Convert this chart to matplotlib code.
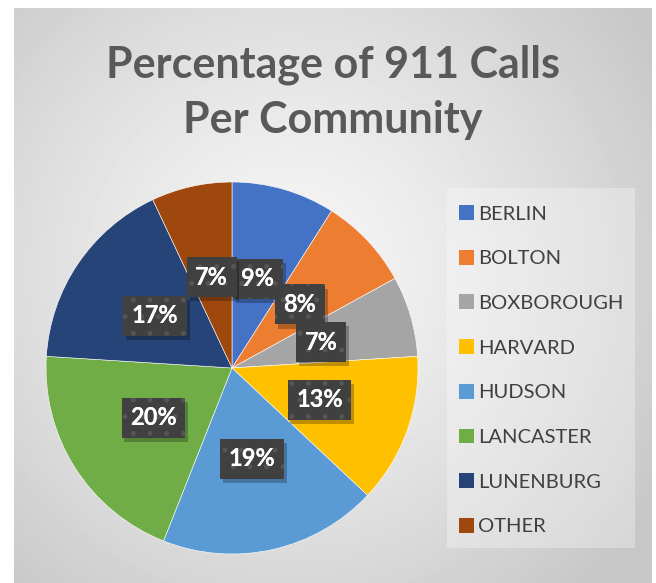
from matplotlib import pyplot as plt
from matplotlib.patches import Patch, Rectangle
import matplotlib.patheffects as pe
import numpy as np

# data
communities = ['BERLIN', 'BOLTON', 'BOXBOROUGH', 'HARVARD', 'HUDSON',
               'LANCASTER', 'LUNENBURG', 'OTHER']
percent = [9, 8, 7, 13, 19, 20, 17, 7]
colors = ['#4472c4', '#ed7d31', '#a5a5a5', '#ffc000', '#5b9bd5',
          '#70ad47', '#264478', '#9e480e']

plt.rcParams['font.family'] = ['Lato', 'DejaVu Sans']
plt.rcParams['hatch.linewidth'] = 1.2

W, H = 656, 583
fig = plt.figure(figsize=(W / 100, H / 100), dpi=100)
fig.patch.set_facecolor('white')

# chart area with radial gradient
bg = fig.add_axes([14 / W, 0, (652 - 14) / W, (583 - 8) / H])
bg.set_axis_off()
yy, xx = np.mgrid[8:583, 14:652]
d = np.hypot(xx - 290, yy - 270) / 430
d = np.clip(d, 0, 1)
shade = 0.965 - (0.965 - 0.78) * d ** 1.3
bg.imshow(shade, cmap='gray', vmin=0, vmax=1, aspect='auto',
          extent=[14, 652, 583, 8], interpolation='bilinear')
bg.set_xlim(14, 652)
bg.set_ylim(583, 8)
bg.add_patch(Rectangle((447, 188), 188, 360, facecolor='white', alpha=0.3,
                       edgecolor='none'))

fig.text(333 / W, 1 - 65 / H, 'Percentage of 911 Calls', ha='center', va='center',
         fontsize=31, fontweight='bold', color='#595959')
fig.text(333 / W, 1 - 120 / H, 'Per Community', ha='center', va='center',
         fontsize=31, fontweight='bold', color='#595959')

# pie
cx, cy, r = 232, 368, 186
ax = fig.add_axes([(cx - r) / W, (H - cy - r) / H, 2 * r / W, 2 * r / H])
wedges, _, autotexts = ax.pie(percent, colors=colors, startangle=90,
                              counterclock=False, autopct='%1.0f%%',
                              pctdistance=0.5,
                              wedgeprops=dict(edgecolor='white', linewidth=0.4))
ax.set_xlim(-1, 1)
ax.set_ylim(-1, 1)
ax.set_aspect('auto')
ax.set_axis_off()

for t in autotexts:
    t.set(fontsize=17, fontweight='bold', color='white')
    t.set_bbox(dict(boxstyle='square,pad=0.36', facecolor='#404040',
                    edgecolor='none'))
    t.get_bbox_patch().set_path_effects([
        pe.SimplePatchShadow(offset=(2, -3), shadow_rgbFace='black', alpha=0.25),
        pe.Normal()])
    # dotted texture on top of the box
    x, y = t.get_position()
    ax.text(x, y, t.get_text(), ha='center', va='center',
            fontsize=17, fontweight='bold', color='white',
            bbox=dict(boxstyle='square,pad=0.36', facecolor='none',
                      edgecolor='#555555', linewidth=0, hatch='.'))

handles = [Patch(facecolor=c, edgecolor='none') for c in colors]
leg = fig.legend(handles, communities, loc='upper left',
                 bbox_to_anchor=(441 / W, 1 - 187 / H), frameon=False,
                 fontsize=14.5, labelcolor='#404040', handlelength=0.75,
                 handleheight=0.75, handletextpad=0.2, labelspacing=1.355)

plt.savefig('out.png', dpi=100)
